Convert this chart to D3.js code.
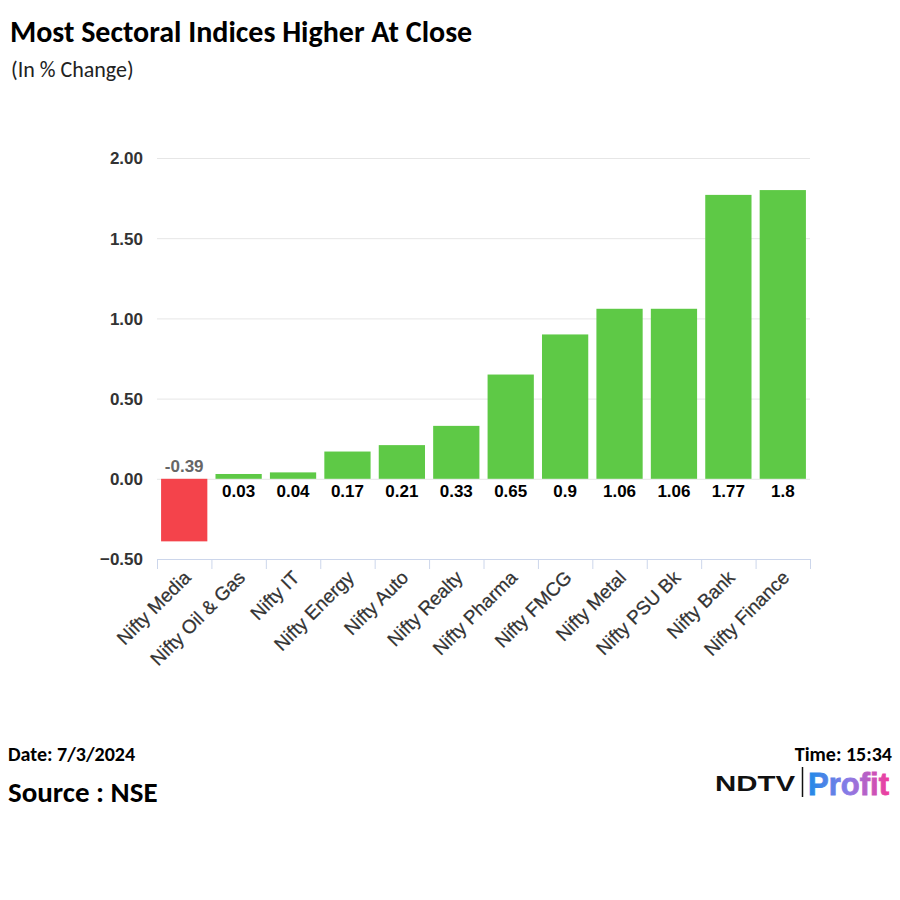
<!DOCTYPE html>
<html>
<head>
<meta charset="utf-8">
<script src="https://cdn.jsdelivr.net/npm/d3@7"></script>
<style>
  body { margin: 0; background: #fff; }
  svg { display: block; }
</style>
</head>
<body>
<svg id="chart" width="900" height="900"></svg>
<script>
const categories = ['Nifty Media', 'Nifty Oil & Gas', 'Nifty IT', 'Nifty Energy', 'Nifty Auto', 'Nifty Realty',
  'Nifty Pharma', 'Nifty FMCG', 'Nifty Metal', 'Nifty PSU Bk', 'Nifty Bank', 'Nifty Finance']
const values = [-0.39, 0.03, 0.04, 0.17, 0.21, 0.33, 0.65, 0.9, 1.06, 1.06, 1.77, 1.8]
const yTicks = [-0.5, 0, 0.5, 1, 1.5, 2]

const svg = d3.select('#chart')
const calibri = "Carlito, Calibri, Lato, sans-serif"
const arial = "'Liberation Sans', Arial, sans-serif"

// title + subtitle
svg.append('text').attr('x', 10).attr('y', 42)
  .attr('font-family', calibri).attr('font-weight', 'bold').attr('font-size', 30)
  .attr('fill', '#000').text('Most Sectoral Indices Higher At Close')
svg.append('text').attr('x', 11).attr('y', 77)
  .attr('font-family', calibri).attr('font-size', 22)
  .attr('fill', '#222').text('(In % Change)')

const margin = { left: 157, right: 90, top: 158, bottom: 341 }
const width = 900 - margin.left - margin.right
const height = 900 - margin.top - margin.bottom
const g = svg.append('g').attr('transform', 'translate(' + margin.left + ',' + margin.top + ')')

const x = d3.scaleBand().domain(categories).range([0, width]).paddingInner(0.15).paddingOuter(0.075)
const y = d3.scaleLinear().domain([-0.5, 2]).range([height, 0])

// grid lines
g.append('g').selectAll('line').data(yTicks.filter((t) => t !== -0.5)).enter().append('line')
  .attr('x1', 0).attr('x2', width)
  .attr('y1', (d) => y(d) + 0.5).attr('y2', (d) => y(d) + 0.5)
  .attr('stroke', '#e6e6e6').attr('stroke-width', 1)

// y axis labels
const yAxis = g.append('g').attr('transform', 'translate(-15,0)')
  .call(d3.axisLeft(y).tickValues(yTicks).tickFormat(d3.format('.2f')).tickSize(0))
yAxis.select('.domain').remove()
yAxis.selectAll('text').attr('font-family', arial).attr('font-weight', 'bold')
  .attr('font-size', 17).attr('fill', '#333').attr('dy', '0.35em').attr('x', 1)

// bars
g.selectAll('.bar').data(categories).enter().append('rect')
  .attr('class', 'bar')
  .attr('x', (d) => x(d))
  .attr('width', x.bandwidth())
  .attr('y', (d, i) => y(Math.max(0, values[i])))
  .attr('height', (d, i) => Math.abs(y(values[i]) - y(0)))
  .attr('fill', (d, i) => (values[i] < 0 ? '#f4434b' : '#5ec946'))

// value labels
g.selectAll('.lbl').data(categories).enter().append('text')
  .attr('class', 'lbl')
  .attr('x', (d) => x(d) + x.bandwidth() / 2)
  .attr('y', (d, i) => (values[i] < 0 ? y(0) - 7 : y(0) + 18))
  .attr('text-anchor', 'middle')
  .attr('font-family', arial).attr('font-weight', 'bold').attr('font-size', 17)
  .attr('fill', (d, i) => (values[i] < 0 ? '#666' : '#000'))
  .text((d, i) => String(values[i]))

// x axis
const xAxis = g.append('g').attr('transform', 'translate(0,' + height + ')')
  .call(d3.axisBottom(x).tickSize(0).tickPadding(10))
xAxis.select('.domain').attr('stroke', '#ccd6eb').attr('d', 'M0,0.5H' + width)
xAxis.selectAll('text')
  .attr('font-family', arial).attr('font-size', 19).attr('fill', '#333')
  .attr('stroke', '#333').attr('stroke-width', 0.25)
  .attr('text-anchor', 'end')
  .attr('transform', 'translate(3,15)rotate(-45)')
  .attr('dy', '0.35em').attr('y', 0).attr('x', 0)
// band boundary ticks
g.append('g').selectAll('line').data(d3.range(categories.length + 1)).enter().append('line')
  .attr('x1', (i) => i * x.step() + 0.5).attr('x2', (i) => i * x.step() + 0.5)
  .attr('y1', height).attr('y2', height + 10)
  .attr('stroke', '#ccd6eb')

// footer
svg.append('text').attr('x', 8).attr('y', 761)
  .attr('font-family', calibri).attr('font-weight', 'bold').attr('font-size', 20)
  .text('Date: 7/3/2024')
svg.append('text').attr('x', 8).attr('y', 802)
  .attr('font-family', calibri).attr('font-weight', 'bold').attr('font-size', 29)
  .text('Source : NSE')
svg.append('text').attr('x', 892).attr('y', 761).attr('text-anchor', 'end')
  .attr('font-family', calibri).attr('font-weight', 'bold').attr('font-size', 20)
  .text('Time: 15:34')

// logo
const defs = svg.append('defs')
const grad = defs.append('linearGradient').attr('id', 'pg').attr('x1', '0%').attr('x2', '100%')
grad.append('stop').attr('offset', '0%').attr('stop-color', '#1f8ae8')
grad.append('stop').attr('offset', '50%').attr('stop-color', '#8a7be6')
grad.append('stop').attr('offset', '100%').attr('stop-color', '#f23c9c')
svg.append('text').attr('x', 715).attr('y', 791)
  .attr('font-family', arial).attr('font-weight', 'bold').attr('font-size', 22)
  .attr('textLength', 80).attr('lengthAdjust', 'spacingAndGlyphs')
  .attr('fill', '#111').text('NDTV')
svg.append('line').attr('x1', 802.5).attr('x2', 802.5).attr('y1', 767).attr('y2', 797)
  .attr('stroke', '#111').attr('stroke-width', 1.5)
svg.append('text').attr('x', 808).attr('y', 795)
  .attr('font-family', arial).attr('font-weight', 'bold').attr('font-size', 31)
  .attr('stroke', 'url(#pg)').attr('stroke-width', 0.8)
  .attr('textLength', 81).attr('lengthAdjust', 'spacingAndGlyphs')
  .attr('fill', 'url(#pg)').text('Profit')
</script>
</body>
</html>
